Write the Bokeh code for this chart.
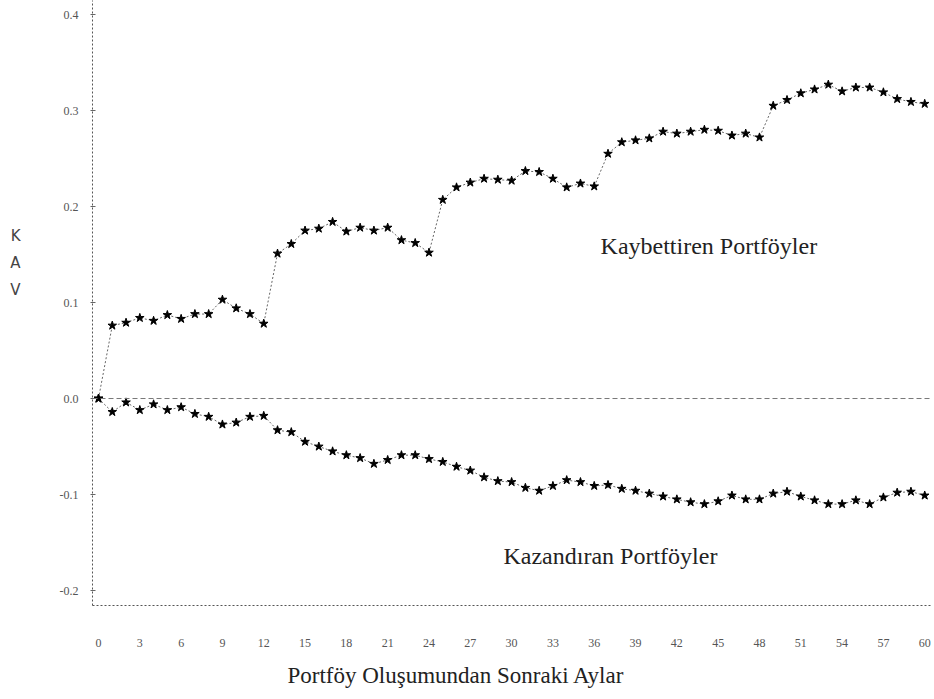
from bokeh.plotting import figure
from bokeh.models import FixedTicker, Span, Label, Title
from bokeh.embed import file_html
from bokeh.resources import INLINE

# ---- data -------------------------------------------------------------
months = list(range(61))

kaybettiren = [
    0.000, 0.076, 0.079, 0.084, 0.081, 0.087, 0.083, 0.088, 0.088, 0.103,
    0.094, 0.088, 0.078, 0.151, 0.161, 0.175, 0.177, 0.184, 0.174, 0.178,
    0.175, 0.178, 0.165, 0.162, 0.152, 0.207, 0.220, 0.225, 0.229, 0.228,
    0.227, 0.237, 0.236, 0.229, 0.220, 0.224, 0.221, 0.255, 0.267, 0.269,
    0.271, 0.278, 0.276, 0.278, 0.280, 0.279, 0.274, 0.276, 0.272, 0.305,
    0.311, 0.318, 0.322, 0.327, 0.320, 0.324, 0.324, 0.319, 0.312, 0.309,
    0.307,
]

kazandiran = [
    0.000, -0.014, -0.004, -0.012, -0.006, -0.012, -0.009, -0.016, -0.019, -0.027,
    -0.025, -0.019, -0.018, -0.033, -0.035, -0.045, -0.050, -0.055, -0.059, -0.062,
    -0.068, -0.064, -0.059, -0.059, -0.063, -0.066, -0.071, -0.075, -0.082, -0.086,
    -0.087, -0.093, -0.096, -0.091, -0.085, -0.087, -0.091, -0.090, -0.094, -0.096,
    -0.099, -0.102, -0.105, -0.108, -0.110, -0.107, -0.101, -0.105, -0.105, -0.099,
    -0.097, -0.102, -0.106, -0.110, -0.110, -0.106, -0.110, -0.103, -0.098, -0.097,
    -0.101,
]

x_ticks = list(range(0, 61, 3))
x_tick_labels = [str(t) for t in x_ticks]
y_ticks = [0.4, 0.3, 0.2, 0.1, 0.0, -0.1, -0.2]
y_tick_labels = ["0.4", "0.3", "0.2", "0.1", "0.0", "-0.1", "-0.2"]

upper_label = "Kaybettiren Portföyler"
lower_label = "Kazandıran Portföyler"
x_title = "Portföy Oluşumundan Sonraki Aylar"
y_title = "K\nA\nV\n \n \n "

# ---- figure -----------------------------------------------------------
p = figure(width=934, height=699, output_backend="svg", toolbar_location=None,
           x_range=(-0.436, 60.42), y_range=(-0.2156, 0.4146),
           min_border_left=92, min_border_right=4, min_border_top=0,
           min_border_bottom=94)
p.outline_line_color = None
p.xgrid.visible = False
p.ygrid.visible = False
p.background_fill_color = "white"
p.border_fill_color = "white"

serif = "Liberation Serif"

# axes
p.xaxis.ticker = FixedTicker(ticks=x_ticks)
p.xaxis.major_label_overrides = {t: l for t, l in zip(x_ticks, x_tick_labels)}
p.yaxis.ticker = FixedTicker(ticks=y_ticks)
p.yaxis.major_label_overrides = {t: l for t, l in zip(y_ticks, y_tick_labels)}
for ax in (p.xaxis, p.yaxis):
    ax.axis_line_color = "#555555"
    ax.axis_line_dash = "2 2"
    ax.axis_line_width = 1
    ax.major_label_text_font = serif
    ax.major_label_text_font_size = "12px"
    ax.major_label_text_color = "#555555"
    ax.minor_tick_line_color = None
p.xaxis.major_tick_line_color = None
p.xaxis.major_label_standoff = 27
p.yaxis.major_tick_line_color = "#666666"
p.yaxis.major_tick_in = 3
p.yaxis.major_tick_out = 2
p.yaxis.major_label_standoff = 12

# y-axis title: stacked letters
p.yaxis.axis_label = y_title
p.yaxis.axis_label_orientation = "horizontal"
p.yaxis.axis_label_text_font = "DejaVu Sans"
p.yaxis.axis_label_text_font_style = "normal"
p.yaxis.axis_label_text_font_size = "15px"
p.yaxis.axis_label_text_color = "#444444"
p.yaxis.axis_label_text_line_height = 1.5
p.yaxis.axis_label_standoff = 36

# x-axis title, placed below the axis
p.add_layout(Title(text=x_title, align="left", offset=195, text_font=serif,
                   text_font_size="23px", text_font_style="normal",
                   text_color="#222222", standoff=23), "below")

# zero reference line
p.add_layout(Span(location=0, dimension="width", line_color="#777777",
                  line_dash="5 3", line_width=1))

# series
for ys in (kaybettiren, kazandiran):
    p.line(months, ys, line_color="#666666", line_width=1, line_dash="2 2")
    p.scatter(months, ys, marker="star", size=9, fill_color="black",
              line_color="black")

# annotations inside the frame
p.add_layout(Label(x=36.46, y=0.159, text=upper_label, text_font=serif,
                   text_font_size="24px", text_color="#222222",
                   text_baseline="alphabetic"))
p.add_layout(Label(x=29.41, y=-0.1636, text=lower_label, text_font=serif,
                   text_font_size="24px", text_color="#222222",
                   text_baseline="alphabetic"))

open("out.html", "w").write(file_html(p, INLINE))
